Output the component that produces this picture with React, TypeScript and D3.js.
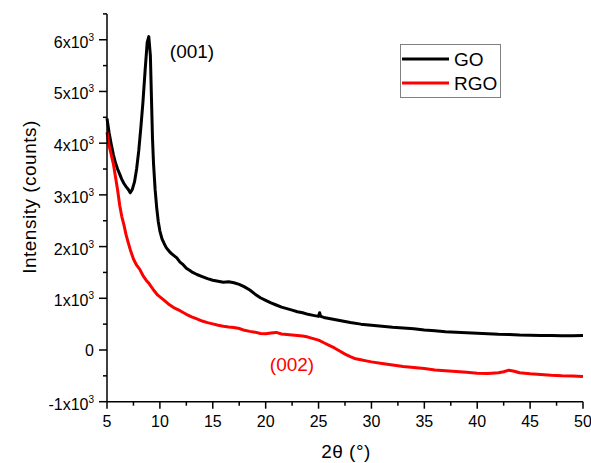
import * as d3 from "d3";

// GO pattern
const goTheta = [5.0, 5.2, 5.4, 5.6, 5.8, 6.0, 6.2, 6.4, 6.6, 6.8, 7.0, 7.2, 7.4, 7.6, 7.8, 8.0, 8.2, 8.4, 8.6, 8.8, 8.95, 9.1, 9.2, 9.3, 9.4, 9.55, 9.7, 9.85, 10.0, 10.2, 10.4, 10.6, 10.8, 11.0, 11.3, 11.6, 11.9, 12.2, 12.5, 12.8, 13.1, 13.5, 14.0, 14.5, 15.0, 15.5, 16.0, 16.5, 17.0, 17.5, 18.0, 18.5, 19.0, 19.5, 20.0, 20.5, 21.0, 21.5, 22.0, 22.5, 23.0, 23.5, 24.0, 24.5, 25.0, 25.1, 25.2, 25.5, 26.0, 27.0, 28.0, 29.0, 30.0, 31.0, 32.0, 33.0, 34.0, 35.0, 36.0, 37.0, 38.0, 39.0, 40.0, 41.0, 42.0, 43.0, 44.0, 45.0, 46.0, 47.0, 48.0, 49.0, 50.0];
const goCounts = [4480, 4200, 3980, 3780, 3620, 3500, 3400, 3300, 3220, 3160, 3110, 3040, 3110, 3250, 3500, 3850, 4300, 4800, 5400, 5950, 6060, 5700, 4900, 4100, 3600, 3100, 2750, 2480, 2300, 2150, 2060, 1980, 1930, 1880, 1830, 1780, 1700, 1650, 1580, 1540, 1500, 1460, 1420, 1380, 1350, 1330, 1310, 1320, 1300, 1270, 1220, 1160, 1080, 1010, 960, 910, 870, 830, 800, 770, 740, 720, 690, 670, 650, 720, 650, 630, 610, 570, 530, 500, 480, 460, 440, 425, 410, 385, 370, 355, 345, 335, 325, 315, 305, 300, 290, 285, 280, 280, 275, 275, 280];

// RGO pattern
const rgoTheta = [5.0, 5.2, 5.4, 5.6, 5.8, 6.0, 6.2, 6.4, 6.6, 6.8, 7.0, 7.2, 7.5, 7.8, 8.1, 8.4, 8.7, 9.0, 9.4, 9.8, 10.3, 10.8, 11.3, 11.9, 12.5, 13.0, 13.5, 14.0, 14.5, 15.0, 15.5, 16.0, 16.5, 17.0, 17.5, 18.0, 18.5, 19.0, 19.5, 20.0, 20.5, 21.0, 21.5, 22.0, 22.5, 23.0, 23.5, 24.0, 24.5, 25.0, 25.5, 26.0, 26.5, 27.0, 27.5, 28.0, 28.5, 29.0, 29.5, 30.0, 31.0, 32.0, 33.0, 34.0, 35.0, 36.0, 37.0, 38.0, 39.0, 40.0, 41.0, 42.0, 42.5, 43.0, 43.5, 44.0, 45.0, 46.0, 47.0, 48.0, 49.0, 50.0];
const rgoCounts = [4210, 3950, 3780, 3600, 3350, 3100, 2800, 2580, 2420, 2230, 2080, 1940, 1760, 1640, 1560, 1440, 1350, 1280, 1160, 1060, 980, 890, 820, 760, 690, 640, 600, 560, 530, 505, 480, 460, 445, 435, 415, 380, 360, 345, 320, 315, 330, 340, 310, 300, 290, 280, 270, 250, 220, 190, 140, 90, 40, -20, -80, -130, -170, -190, -210, -230, -260, -290, -320, -340, -360, -385, -400, -415, -430, -450, -455, -440, -420, -390, -410, -440, -460, -475, -490, -500, -505, -515];

const xTicks = [5, 10, 15, 20, 25, 30, 35, 40, 45, 50];
const xMinor = [7.5, 12.5, 17.5, 22.5, 27.5, 32.5, 37.5, 42.5, 47.5];
const yTicks = [-1000, 0, 1000, 2000, 3000, 4000, 5000, 6000];
const yMinor = [-500, 500, 1500, 2500, 3500, 4500, 5500, 6500];

const series = [
  { name: "GO", color: "#000000", xs: goTheta, ys: goCounts },
  { name: "RGO", color: "#ff0000", xs: rgoTheta, ys: rgoCounts },
];

const font = "'Liberation Sans', Arial, sans-serif";

export default function App() {
  const W = 591, H = 463;
  const x = d3.scaleLinear().domain([5, 50]).range([107, 583]);
  const y = d3.scaleLinear().domain([-1000, 6500]).range([401.7, 13.9]);
  const x0 = x(5), y0 = y(-1000);

  const line = d3.line<[number, number]>()
    .x(d => x(d[0]))
    .y(d => y(d[1]));

  return (
    <svg width={W} height={H} style={{ position: "absolute", left: 0, top: 0, background: "#fff" }} fontFamily={font}>
      {series.map(s => (
        <path key={s.name}
          d={line(s.xs.map((v, i) => [v, s.ys[i]] as [number, number])) || ""}
          fill="none" stroke={s.color} strokeWidth={3} strokeLinejoin="round" />
      ))}

      {/* axes */}
      <line x1={x0} x2={x0} y1={y(6500)} y2={y0} stroke="#000" strokeWidth={1.5} />
      <line x1={x0} x2={x(50)} y1={y0} y2={y0} stroke="#000" strokeWidth={1.5} />

      {yTicks.map(t => (
        <g key={"y" + t}>
          <line x1={x0 - 8} x2={x0} y1={y(t)} y2={y(t)} stroke="#000" strokeWidth={1.5} />
          {t === 0 ? (
            <text x={94} y={y(t) + 6} fontSize={16} textAnchor="end">0</text>
          ) : (
            <text x={94} y={y(t) + 8} fontSize={16} textAnchor="end">
              {t / 1000}x10<tspan fontSize={10} dy={-7}>3</tspan>
            </text>
          )}
        </g>
      ))}
      {yMinor.map(t => (
        <line key={"ym" + t} x1={x0 - 4} x2={x0} y1={y(t)} y2={y(t)} stroke="#000" strokeWidth={1.5} />
      ))}

      {xTicks.map(t => (
        <g key={"x" + t}>
          <line x1={x(t)} x2={x(t)} y1={y0} y2={y0 + 7} stroke="#000" strokeWidth={1.5} />
          <text x={x(t)} y={427} fontSize={16} textAnchor="middle">{t}</text>
        </g>
      ))}
      {xMinor.map(t => (
        <line key={"xm" + t} x1={x(t)} x2={x(t)} y1={y0} y2={y0 + 4} stroke="#000" strokeWidth={1.5} />
      ))}

      {/* titles */}
      <text x={346} y={458} fontSize={19} textAnchor="middle" letterSpacing={0.5}>2θ (°)</text>
      <text transform="translate(36,197) rotate(-90)" fontSize={19} textAnchor="middle" letterSpacing={0.5}>Intensity (counts)</text>

      {/* peak labels */}
      <text x={192} y={58} fontSize={19} textAnchor="middle">(001)</text>
      <text x={292} y={371} fontSize={19} textAnchor="middle" fill="#ff0000">(002)</text>

      {/* legend */}
      <rect x={400.5} y={44.5} width={100} height={53} fill="#fff" stroke="#808080" strokeWidth={1} />
      {series.map((s, i) => (
        <g key={"lg" + s.name}>
          <line x1={402} x2={449} y1={59 + i * 24} y2={59 + i * 24} stroke={s.color} strokeWidth={3} />
          <text x={454} y={65.5 + i * 24} fontSize={19}>{s.name}</text>
        </g>
      ))}
    </svg>
  );
}
